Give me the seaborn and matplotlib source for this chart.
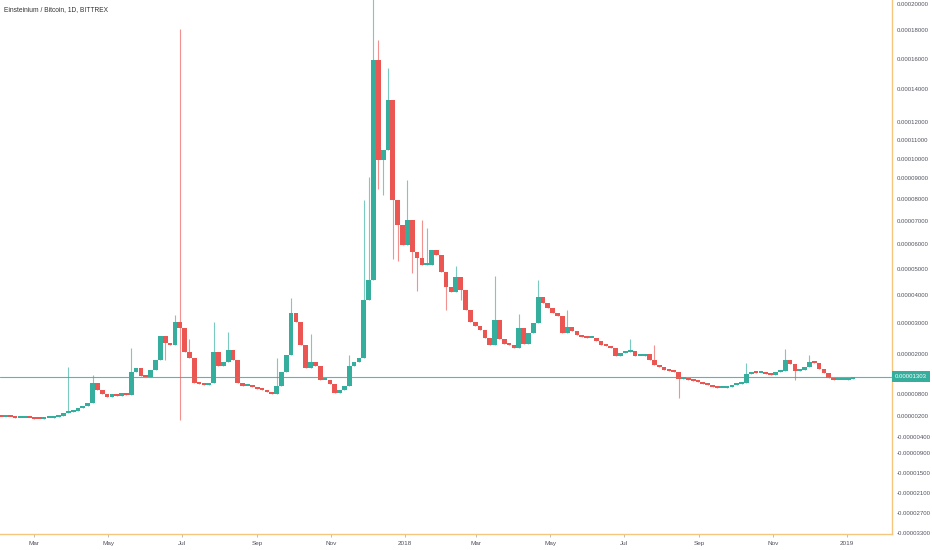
#!/usr/bin/env python3
"""
Einsteinium / Bitcoin candles (BITTREX) redrawn with seaborn + matplotlib
"""

import numpy as np
import pandas as pd
import matplotlib
matplotlib.use("Agg")
import matplotlib.pyplot as plt
import matplotlib.transforms as mtransforms
from matplotlib.ticker import FixedLocator, FixedFormatter
import seaborn as sns

nan = np.nan

# prices in satoshi, one candle every 4 days from start_date
start_date = "2017-02-01"
step_days = 4
first_open = 175
closes = [
    173, 173, 160, 146, 146, 150, 133, 120, 118, 133, 146, 160, 186,
    280, 295, 334, 416, 470, 553, 1120, 919, 805, 720, 805, 748, 833, 777,
    1445, 1565, 1326, 1296, 1505, 1811, 2575, 2350, 2285, 3045, 2840, 2060, 1870,
    1120, 1090, 1062, 1120, 2060, 1627, 1750, 2124, 1811, 1120, 1035, 1035, 1005, 947, 919, 862, 805,
    1035, 1445, 1966, 3360, 3045, 2285, 1565, 1750, 1627, 1208, 1208, 1090, 833, 919, 1035, 1627, 1750, 1870,
    3820, 4562, 15900, 9937, 10466, 13327, 7955, 6800, 5960, 7039, 5670, 5430, 5150, 5150, 5752, 5550, 4870, 4300, 4110,
    4680, 4186, 3462, 3045, 2910, 2775, 2510, 2285, 3114, 2475, 2315, 2285, 2185, 2840, 2315, 2670, 3010,
    3930, 3710, 3530, 3360, 3250, 2670, 2875, 2740, 2610, 2540, 2510, 2510, 2410, 2285, 2250, 2190,
    1935, 2030, 2060, 2090, 1935, 1935, 2000, 1811, 1657, 1596, 1505, 1475, 1445, 1237, 1267, 1208, 1180, 1150, 1090,
    1062, 1005, 975, 975, 1005, 1062, 1090, 1120, 1385, 1445, 1415, 1415, 1385, 1356, 1445,
    1475, 1811, 1687, 1475, 1505, 1596, 1750, 1720, 1535, 1415, 1267, 1208, 1208, 1208, 1237, 1303,
]

# candles with wicks reaching past their bodies (satoshi, nan = none)
wick_dates = ["2017-03-29", "2017-04-18", "2017-05-20", "2017-06-13", "2017-06-17",
              "2017-06-25", "2017-06-29", "2017-07-07", "2017-07-27", "2017-08-08",
              "2017-09-17", "2017-09-29", "2017-10-15", "2017-11-16", "2017-11-28",
              "2017-12-02", "2017-12-06", "2017-12-10", "2017-12-14", "2017-12-18",
              "2017-12-22", "2017-12-26", "2018-01-03", "2018-01-07", "2018-01-11",
              "2018-01-15", "2018-01-19", "2018-02-04", "2018-02-12", "2018-02-16",
              "2018-03-16", "2018-04-05", "2018-04-21", "2018-05-15", "2018-07-06",
              "2018-07-26", "2018-08-15", "2018-10-10", "2018-11-11", "2018-11-19",
              "2018-12-01"]
wick_highs = [1600, 1356, 2200, nan, nan,
              3300, 18100, 2480, 3045, 2710,
              1880, 3890, 2640, 1966, 7955,
              9050, 21500, 17300, nan, 15400,
              nan, nan, 8920, nan, nan,
              7040, 6700, nan, 5100, nan,
              4700, 3320, 4560, 3460, 2480,
              2290, nan, 1720, 2150, nan,
              1966]
wick_lows = [nan, nan, nan, 1811, 1811,
             nan, 100, nan, nan, nan,
             nan, nan, nan, nan, nan,
             nan, nan, 8500, 8200, nan,
             5400, 5300, nan, 4820, 4150,
             nan, nan, 3460, nan, 3820,
             nan, nan, nan, nan, nan,
             nan, 690, nan, nan, 1208,
             nan]

y_ticks = [20000, 18000, 16000, 14000, 12000, 11000, 10000, 9000, 8000, 7000, 6000,
           5000, 4000, 3000, 2000, 800, 200, -400, -900, -1500, -2100, -2700, -3300]
x_tick_dates = ["2017-03-01", "2017-05-01", "2017-07-01", "2017-09-01", "2017-11-01",
                "2018-01-01", "2018-03-01", "2018-05-01", "2018-07-01", "2018-09-01",
                "2018-11-01", "2019-01-01"]
x_tick_labels = ["Mar", "May", "Jul", "Sep", "Nov", "2018",
                 "Mar", "May", "Jul", "Sep", "Nov", "2019"]

title = "Einsteinium / Bitcoin, 1D, BITTREX"

SAT = 1e-8
UP = "#35ae9e"
DOWN = "#ec5652"
AXIS = "#f5c77e"
TEXT = "#50535e"
FS = 4.3


def build_candles():
    """Turn the close list into an OHLC frame"""
    dates = pd.date_range(start_date, periods=len(closes), freq=f"{step_days}D")
    close = np.array(closes, dtype=float)
    open_ = np.r_[first_open, close[:-1]]
    high = np.maximum(open_, close)
    low = np.minimum(open_, close)

    for d, h, l in zip(wick_dates, wick_highs, wick_lows):
        i = dates.get_loc(pd.Timestamp(d))
        if not np.isnan(h):
            high[i] = max(high[i], h)
        if not np.isnan(l):
            low[i] = min(low[i], l)

    df = pd.DataFrame({"date": dates, "open": open_, "high": high,
                       "low": low, "close": close})
    df["up"] = df["close"] >= df["open"]
    return df


# TradingView style log axis: log(v + C) above zero, linear below
C = 1e-4
K = 382.0
S = 30e-8


def fwd(v):
    v = np.asarray(v, dtype=float)
    pos = K * np.log1p(np.clip(v, 0, None) / C)
    neg = np.minimum(v, 0) / S
    return np.where(v >= 0, pos, neg)


def inv(f):
    f = np.asarray(f, dtype=float)
    pos = C * np.expm1(np.clip(f, 0, None) / K)
    neg = np.minimum(f, 0) * S
    return np.where(f >= 0, pos, neg)


def main():
    sns.set_theme(style="white")
    plt.rcParams["font.family"] = ["Liberation Sans", "DejaVu Sans"]

    df = build_candles()
    colors = np.where(df["up"], UP, DOWN)

    fig = plt.figure(figsize=(9.32, 5.5), dpi=100)
    ax = fig.add_axes([0, 16 / 550, 892 / 932, 534 / 550])
    ax.set_yscale("function", functions=(fwd, inv))

    # wicks
    ax.vlines(df["date"], df["low"] * SAT, df["high"] * SAT,
              colors=colors, linewidth=0.8, alpha=0.65)

    # bodies, flat candles kept about 2 px tall
    bottom = np.minimum(df["open"], df["close"]) * SAT
    body = (df["close"] - df["open"]).abs() * SAT
    min_body = 2.0 * (bottom + C) / K
    body = np.maximum(body, min_body)
    ax.bar(df["date"], body, bottom=bottom, width=3.9,
           color=colors, linewidth=0)

    # last price line + label
    last = df["close"].iloc[-1] * SAT
    ax.axhline(last, color=UP, linewidth=0.8, alpha=0.85)
    trans = mtransforms.blended_transform_factory(ax.transAxes, ax.transData)
    ax.text(1.003, last, f"{last:.8f}", transform=trans, ha="left", va="center",
            fontsize=FS, color="white", clip_on=False,
            bbox=dict(boxstyle="square,pad=0.5", fc=UP, ec="none"))

    ax.set_xlim(pd.Timestamp("2017-01-31 14:00"), pd.Timestamp("2019-02-07 05:00"))
    ax.set_ylim(-3320 * SAT, 20320 * SAT)

    ax.yaxis.tick_right()
    ax.yaxis.set_major_locator(FixedLocator([t * SAT for t in y_ticks]))
    ax.yaxis.set_major_formatter(FixedFormatter([f"{t * SAT:.8f}" for t in y_ticks]))
    ax.yaxis.set_minor_locator(FixedLocator([]))

    xt = [matplotlib.dates.date2num(pd.Timestamp(d)) for d in x_tick_dates]
    ax.xaxis.set_major_locator(FixedLocator(xt))
    ax.xaxis.set_major_formatter(FixedFormatter(x_tick_labels))

    ax.tick_params(axis="y", right=True, length=2.2, width=0.7, color="#bdbdbd",
                   pad=1.0, labelsize=FS, labelcolor=TEXT)
    ax.tick_params(axis="x", bottom=True, length=2.2, width=0.7, color="#bdbdbd",
                   pad=3, labelsize=FS + 0.3, labelcolor=TEXT)

    sns.despine(ax=ax, left=True, top=True, right=False, bottom=False)
    for side in ("right", "bottom"):
        ax.spines[side].set_color(AXIS)
        ax.spines[side].set_linewidth(1.0)
    ax.grid(False)

    fig.text(4 / 932, 1 - 10 / 550, title, fontsize=4.8, color="#333333", va="center")

    fig.savefig("out.png", dpi=100)
    plt.close(fig)
    print("saved out.png")


if __name__ == "__main__":
    main()
